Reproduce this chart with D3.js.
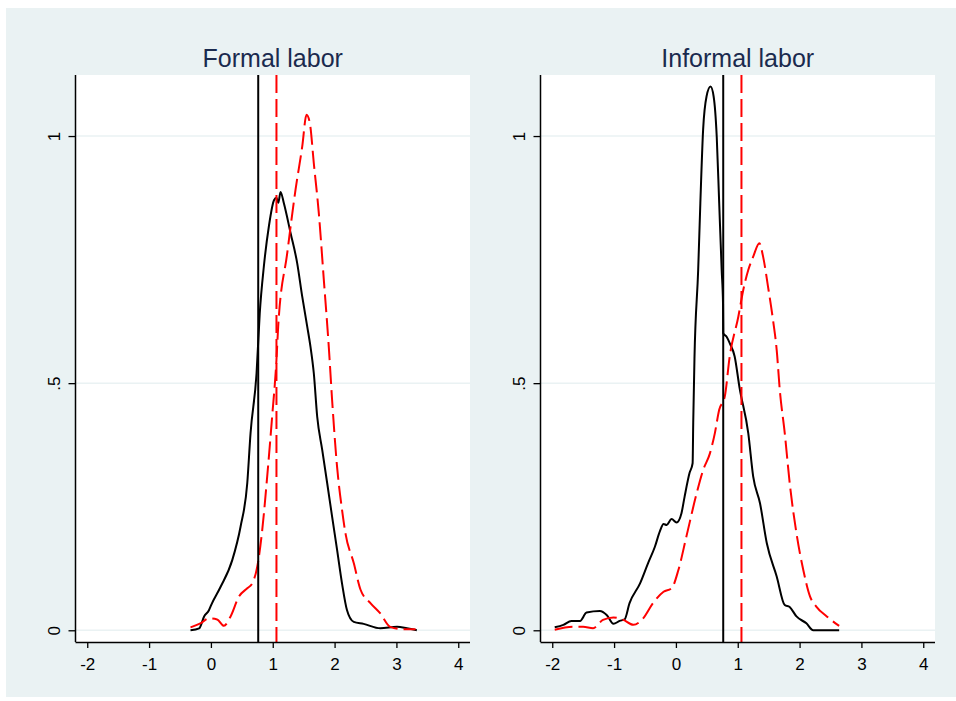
<!DOCTYPE html>
<html>
<head>
<meta charset="utf-8">
<script src="https://cdn.jsdelivr.net/npm/d3@7"></script>
<style>
  body { margin: 0; background: #fff; }
  svg { display: block; font-family: "Liberation Sans", Arial, Helvetica, sans-serif; }
</style>
</head>
<body>
<svg width="956" height="701"></svg>
<script>
// panel titles
const titles = ["Formal labor", "Informal labor"];

// tick labels
const xTicks = [-2, -1, 0, 1, 2, 3, 4];
const xTickLabels = ["-2", "-1", "0", "1", "2", "3", "4"];
const yTicks = [0, 0.5, 1];
const yTickLabels = ["0", ".5", "1"];

// vertical reference lines (means)
const solidMean = 0.765;
const dashMean = 1.06;

// formal labor, solid black density
const formalSolidX = [-0.33, -0.19, -0.11, -0.03, 0.0, 0.157, 0.345, 0.48, 0.588, 0.641, 0.738, 0.79, 0.856, 0.937, 1.02, 1.06, 1.09, 1.126, 1.18, 1.288, 1.395, 1.477, 1.557, 1.61, 1.664, 1.719, 1.8, 1.88, 1.96, 2.04, 2.12, 2.2, 2.31, 2.47, 2.74, 3.01, 3.17, 3.33];
const formalSolidY = [0, 0.004, 0.028, 0.041, 0.05, 0.088, 0.142, 0.21, 0.298, 0.399, 0.52, 0.642, 0.736, 0.817, 0.87, 0.875, 0.865, 0.887, 0.864, 0.804, 0.743, 0.675, 0.615, 0.574, 0.52, 0.432, 0.365, 0.298, 0.23, 0.163, 0.095, 0.041, 0.017, 0.013, 0.004, 0.007, 0.004, 0];

// formal labor, dashed red density
const formalDashX = [-0.33, -0.17, -0.03, 0.1, 0.21, 0.318, 0.452, 0.588, 0.668, 0.75, 0.83, 0.91, 0.99, 1.06, 1.088, 1.234, 1.368, 1.477, 1.546, 1.6, 1.664, 1.745, 1.826, 1.906, 1.96, 2.04, 2.12, 2.176, 2.31, 2.42, 2.58, 2.74, 2.9, 3.12, 3.31];
const formalDashY = [0.006, 0.014, 0.024, 0.022, 0.009, 0.028, 0.068, 0.085, 0.095, 0.129, 0.203, 0.311, 0.432, 0.547, 0.615, 0.763, 0.891, 0.979, 1.043, 1.026, 0.945, 0.844, 0.709, 0.574, 0.466, 0.331, 0.244, 0.196, 0.136, 0.082, 0.055, 0.034, 0.007, 0.002, 0.002];

// informal labor, solid black density
const informalSolidX = [-1.96, -1.82, -1.69, -1.55, -1.445, -1.23, -1.12, -1.01, -0.91, -0.83, -0.75, -0.58, -0.45, -0.34, -0.26, -0.2, -0.15, -0.07, 0.01, 0.09, 0.14, 0.22, 0.27, 0.28, 0.30, 0.36, 0.395, 0.44, 0.495, 0.56, 0.61, 0.66, 0.70, 0.74, 0.762, 0.766, 0.82, 0.87, 0.95, 1.03, 1.17, 1.25, 1.36, 1.47, 1.63, 1.76, 1.84, 1.95, 2.11, 2.22, 2.64];
const informalSolidY = [0.006, 0.011, 0.019, 0.019, 0.036, 0.039, 0.031, 0.013, 0.019, 0.022, 0.055, 0.095, 0.136, 0.169, 0.2, 0.215, 0.213, 0.225, 0.218, 0.237, 0.27, 0.318, 0.338, 0.42, 0.55, 0.729, 0.864, 1.013, 1.08, 1.1, 1.08, 0.999, 0.864, 0.729, 0.66, 0.601, 0.594, 0.581, 0.554, 0.49, 0.399, 0.311, 0.257, 0.176, 0.109, 0.051, 0.047, 0.028, 0.014, 0, 0];

// informal labor, dashed red density
const informalDashX = [-1.96, -1.66, -1.5, -1.34, -1.18, -1.01, -0.85, -0.69, -0.53, -0.37, -0.2, -0.07, 0.04, 0.17, 0.335, 0.44, 0.55, 0.63, 0.70, 0.79, 0.87, 1.01, 1.09, 1.17, 1.25, 1.35, 1.41, 1.49, 1.57, 1.63, 1.68, 1.76, 1.84, 1.95, 2.06, 2.17, 2.27, 2.44, 2.64];
const informalDashY = [0.001, 0.007, 0.007, 0.004, 0.021, 0.026, 0.021, 0.011, 0.024, 0.055, 0.078, 0.085, 0.122, 0.19, 0.277, 0.324, 0.358, 0.399, 0.446, 0.473, 0.554, 0.635, 0.689, 0.729, 0.756, 0.783, 0.756, 0.695, 0.628, 0.567, 0.486, 0.399, 0.298, 0.196, 0.122, 0.068, 0.048, 0.028, 0.009];

const panels = [
  { title: titles[0], left: 75.5, right: 470, solid: [formalSolidX, formalSolidY], dash: [formalDashX, formalDashY] },
  { title: titles[1], left: 540.5, right: 935, solid: [informalSolidX, informalSolidY], dash: [informalDashX, informalDashY] }
];

const bg = "#EAF2F3";
const plotTop = 75, plotBottom = 642;

const svg = d3.select("svg");

// graph region
svg.append("rect")
  .attr("x", 6).attr("y", 8)
  .attr("width", 950).attr("height", 689)
  .attr("fill", bg);

const y = d3.scaleLinear()
  .domain([-0.0237, 1.1235])
  .range([plotBottom, plotTop]);

panels.forEach(p => {
  const g = svg.append("g");

  const x = d3.scaleLinear()
    .domain([-2.19, 4.19])
    .range([p.left, p.right]);

  // plot region
  g.append("rect")
    .attr("x", p.left).attr("y", plotTop)
    .attr("width", p.right - p.left).attr("height", plotBottom - plotTop)
    .attr("fill", "#fff");

  // gridlines
  g.selectAll(".grid")
    .data(yTicks)
    .enter()
    .append("line")
    .attr("x1", p.left).attr("x2", p.right)
    .attr("y1", d => y(d)).attr("y2", d => y(d))
    .attr("stroke", bg)
    .attr("stroke-width", 1.5);

  const line = d3.line()
    .x(d => x(d[0]))
    .y(d => y(d[1]))
    .curve(d3.curveMonotoneX);

  // solid density
  g.append("path")
    .datum(d3.zip(p.solid[0], p.solid[1]))
    .attr("d", line)
    .attr("fill", "none")
    .attr("stroke", "#000")
    .attr("stroke-width", 2);

  // dashed density
  g.append("path")
    .datum(d3.zip(p.dash[0], p.dash[1]))
    .attr("d", line)
    .attr("fill", "none")
    .attr("stroke", "#ff0000")
    .attr("stroke-width", 2)
    .attr("stroke-dasharray", "18,6");

  // mean lines
  g.append("line")
    .attr("x1", x(solidMean)).attr("x2", x(solidMean))
    .attr("y1", plotTop).attr("y2", plotBottom)
    .attr("stroke", "#000")
    .attr("stroke-width", 2);

  g.append("line")
    .attr("x1", x(dashMean)).attr("x2", x(dashMean))
    .attr("y1", plotTop).attr("y2", plotBottom)
    .attr("stroke", "#ff0000")
    .attr("stroke-width", 2)
    .attr("stroke-dasharray", "18,6");

  // x axis
  const xAxis = g.append("g")
    .attr("transform", `translate(0,${plotBottom})`)
    .call(d3.axisBottom(x).tickValues(xTicks).tickSize(6).tickPadding(10).tickSizeOuter(0)
      .tickFormat((d, i) => xTickLabels[i]));
  xAxis.select(".domain").attr("stroke", "#000").attr("stroke-width", 1.5)
    .attr("d", `M${p.left},0.5H${p.right}`);
  xAxis.selectAll(".tick line").attr("stroke", "#000").attr("stroke-width", 1.3);
  xAxis.selectAll(".tick text")
    .attr("font-size", 17)
    .attr("font-family", "Liberation Sans, Arial, sans-serif")
    .attr("fill", "#000");

  // y axis
  const yAxis = g.append("g")
    .attr("transform", `translate(${p.left},0)`)
    .call(d3.axisLeft(y).tickValues(yTicks).tickSize(7).tickFormat((d, i) => yTickLabels[i]).tickSizeOuter(0));
  yAxis.select(".domain").attr("stroke", "#000").attr("stroke-width", 1.5)
    .attr("d", `M0,${plotTop}V${plotBottom}`);
  yAxis.selectAll(".tick line").attr("stroke", "#000").attr("stroke-width", 1.3);
  yAxis.selectAll(".tick text")
    .attr("font-size", 17)
    .attr("font-family", "Liberation Sans, Arial, sans-serif")
    .attr("fill", "#000")
    .attr("x", null).attr("dy", null)
    .attr("text-anchor", "middle")
    .attr("transform", "translate(-16,0) rotate(-90)");

  // title
  g.append("text")
    .attr("x", (p.left + p.right) / 2)
    .attr("y", 67)
    .attr("text-anchor", "middle")
    .attr("font-size", 25)
    .attr("fill", "#1a2a4e")
    .text(p.title);
});
</script>
</body>
</html>
